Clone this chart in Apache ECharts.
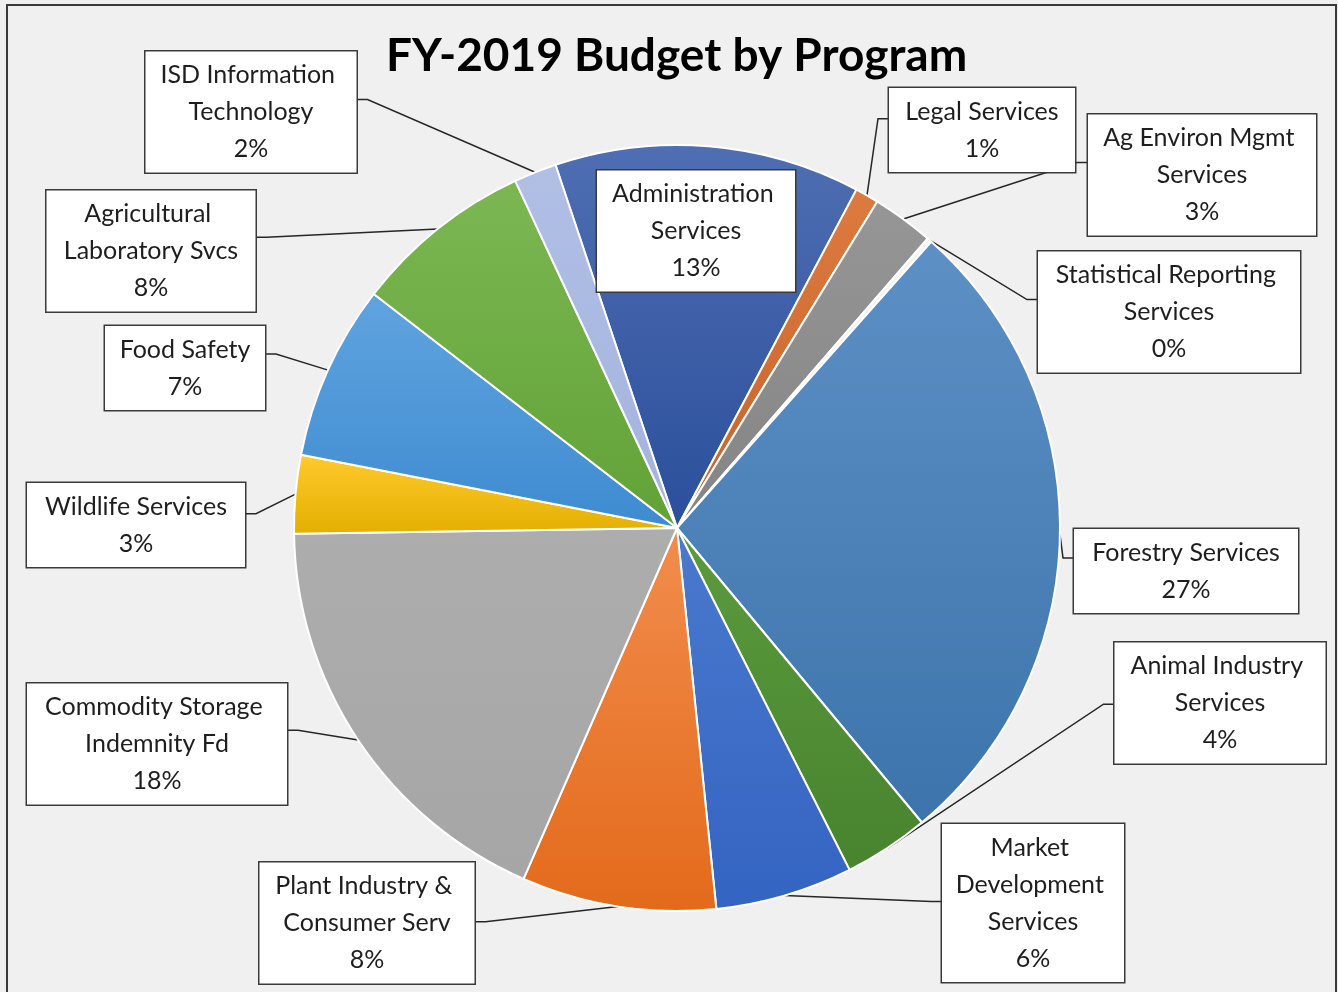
<!DOCTYPE html>
<html>
<head>
<meta charset="utf-8">
<script src="https://cdn.jsdelivr.net/npm/echarts@6/dist/echarts.min.js"></script>
<style>
  html, body { margin: 0; padding: 0; background: #f0f0f0; }
  #chart { width: 1338px; height: 992px; }
</style>
</head>
<body>
<div id="chart"></div>
<script>
// FY-2019 budget share by program (percent of total), clockwise from the top
const programs = [
  'Administration Services',
  'Legal Services',
  'Ag Environ Mgmt Services',
  'Statistical Reporting Services',
  'Forestry Services',
  'Animal Industry Services',
  'Market Development Services',
  'Plant Industry & Consumer Serv',
  'Commodity Storage Indemnity Fd',
  'Wildlife Services',
  'Food Safety',
  'Agricultural Laboratory Svcs',
  'ISD Information Technology'
];
const shares = [12.9, 1.0, 2.6, 0.2, 27.4, 3.6, 5.8, 8.2, 18.2, 3.3, 7.4, 7.6, 1.8];

// slice fills: [top, bottom] of a soft vertical gradient
const sliceColors = [
  ['#4f6eb3', '#2b4f9b'],
  ['#dc7a40', '#c8632a'],
  ['#969696', '#848484'],
  ['#f4f4f4', '#e8e8e8'],
  ['#5d90c5', '#3c74ab'],
  ['#5b9b3d', '#48832e'],
  ['#4a79cd', '#3464c2'],
  ['#f28d4d', '#e36a1b'],
  ['#adadad', '#a6a6a6'],
  ['#ffca2c', '#e3af00'],
  ['#60a4df', '#3e8bd1'],
  ['#7cb753', '#61a236'],
  ['#b1bfe5', '#a3b3de']
];

// label boxes: centre, outer width, side where the leader line enters, entry height (fraction of box)
const labelBoxes = [
  { cx: 696,  cy: 231, w: 198, side: null },
  { cx: 982,  cy: 130, w: 186, side: 'left',  at: 0.37 },
  { cx: 1202, cy: 175, w: 228, side: 'left',  at: 0.40 },
  { cx: 1169, cy: 312, w: 262, side: 'left',  at: 0.40 },
  { cx: 1186, cy: 571, w: 224, side: 'left',  at: 0.35 },
  { cx: 1220, cy: 703, w: 211, side: 'left',  at: 0.51 },
  { cx: 1033, cy: 903, w: 182, side: 'left',  at: 0.49 },
  { cx: 367,  cy: 923, w: 215, side: 'right', at: 0.49 },
  { cx: 157,  cy: 744, w: 260, side: 'right', at: 0.39 },
  { cx: 136,  cy: 525, w: 218, side: 'right', at: 0.37 },
  { cx: 185,  cy: 368, w: 160, side: 'right', at: 0.34 },
  { cx: 151,  cy: 251, w: 209, side: 'right', at: 0.39 },
  { cx: 251,  cy: 112, w: 211, side: 'right', at: 0.40 }
];

const PAD_X = 6;
const STUB = 11;

const chart = echarts.init(document.getElementById('chart'), null, { renderer: 'canvas' });

const pieData = programs.map((name, i) => ({
  name: name,
  value: shares[i],
  itemStyle: {
    color: new echarts.graphic.LinearGradient(0, 0, 0, 1, [
      { offset: 0, color: sliceColors[i][0] },
      { offset: 1, color: sliceColors[i][1] }
    ])
  },
  label: { width: labelBoxes[i].w - PAD_X * 2 },
  labelLine: { show: !!labelBoxes[i].side }
}));

chart.setOption({
  animation: false,
  backgroundColor: '#f0f0f0',
  title: {
    text: 'FY-2019 Budget by Program',
    left: 381,
    top: 28,
    textStyle: {
      fontFamily: 'Lato',
      fontWeight: 'bold',
      fontSize: 46,
      color: '#000'
    }
  },
  graphic: [{
    type: 'rect',
    silent: true,
    z: 100,
    shape: { x: 7, y: 5, width: 1329, height: 1000 },
    style: { fill: 'none', stroke: '#3a3a3a', lineWidth: 2 }
  }],
  series: [{
    type: 'pie',
    center: [677, 528],
    radius: 383,
    startAngle: 108.5,
    clockwise: true,
    avoidLabelOverlap: false,
    emphasis: { disabled: true },
    itemStyle: { borderColor: '#ffffff', borderWidth: 2 },
    label: {
      show: true,
      position: 'outside',
      formatter: p => p.name + '\n' + Math.round(p.percent) + '%',
      fontFamily: 'Lato',
      fontSize: 25,
      color: '#1e1e1e',
      lineHeight: 37,
      align: 'center',
      overflow: 'break',
      backgroundColor: '#ffffff',
      borderColor: '#3a3a3a',
      borderWidth: 1.5,
      padding: [5, PAD_X]
    },
    labelLine: {
      show: true,
      length: 10,
      length2: 10,
      lineStyle: { color: '#262626', width: 1.5 }
    },
    labelLayout: function (p) {
      const box = labelBoxes[p.dataIndex];
      const out = { x: box.cx, y: box.cy, align: 'center', verticalAlign: 'middle' };
      if (box.side && p.labelLinePoints) {
        const h = p.labelRect.height;
        const ay = box.cy - h / 2 + h * box.at;
        const edge = box.side === 'left' ? box.cx - box.w / 2 : box.cx + box.w / 2;
        const elbow = box.side === 'left' ? edge - STUB : edge + STUB;
        out.labelLinePoints = [p.labelLinePoints[0].slice(), [elbow, ay], [edge, ay]];
      }
      return out;
    },
    data: pieData
  }]
});
</script>
</body>
</html>
